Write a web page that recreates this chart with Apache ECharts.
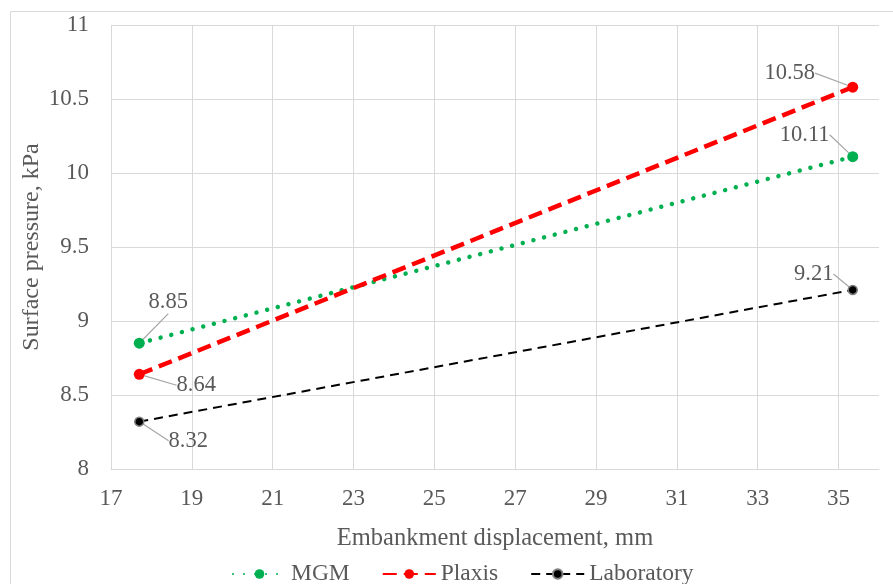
<!DOCTYPE html>
<html>
<head>
<meta charset="utf-8">
<script src="https://cdn.jsdelivr.net/npm/echarts@6/dist/echarts.min.js"></script>
<style>html,body{margin:0;padding:0;background:#fff;}#c{width:893px;height:584px;}</style>
</head>
<body>
<div id="c"></div>
<script>
const displacement = [17.7, 35.35];
const mgm = [8.85, 10.11];
const plaxis = [8.64, 10.58];
const laboratory = [8.32, 9.21];
const xTicks = [17, 19, 21, 23, 25, 27, 29, 31, 33, 35];
const yTicks = [8, 8.5, 9, 9.5, 10, 10.5, 11];

const FONT = 'Liberation Serif';
const GREY = '#595959';

function pairs(ys) { return displacement.map((x, i) => [x, ys[i]]); }

const labelOffsets = {
  MGM: [[29, -41], [-48, -22]],
  Plaxis: [[57, 11], [-63, -14]],
  Laboratory: [[49, 19], [-39, -16]]
};

function mkSeries(name, ys, color, lineStyle, symbolSize, itemStyle) {
  return {
    name: name,
    type: 'line',
    data: pairs(ys),
    symbol: 'circle',
    symbolSize: symbolSize,
    itemStyle: Object.assign({ color: color }, itemStyle || {}),
    lineStyle: Object.assign({ color: color }, lineStyle),
    label: {
      show: true,
      position: 'inside',
      color: GREY,
      fontFamily: FONT,
      fontSize: 22.5,
      formatter: p => String(p.value[1])
    },
    labelLine: { show: true, lineStyle: { color: '#a6a6a6', width: 1.2 } },
    labelLayout: function (p) {
      const o = labelOffsets[name][p.dataIndex];
      return { dx: o[0], dy: o[1] };
    },
    emphasis: { disabled: true },
    animation: false
  };
}

const chart = echarts.init(document.getElementById('c'));
chart.setOption({
  animation: false,
  backgroundColor: '#fff',
  textStyle: { fontFamily: FONT },
  graphic: [{
    type: 'rect',
    shape: { x: 10.5, y: 11.5, width: 900, height: 600 },
    style: { fill: 'none', stroke: '#d9d9d9', lineWidth: 1 },
    silent: true
  }],
  grid: { left: 111, top: 25, right: 14, bottom: 115, containLabel: false },
  xAxis: {
    type: 'value',
    min: xTicks[0],
    max: 36,
    interval: 2,
    name: 'Embankment displacement, mm',
    nameLocation: 'middle',
    nameGap: 57,
    nameMoveOverlap: false,
    nameTextStyle: { color: GREY, fontFamily: FONT, fontSize: 24.5 },
    axisLine: { show: true, lineStyle: { color: '#d9d9d9', width: 1 } },
    axisTick: { show: false },
    axisLabel: { color: GREY, fontFamily: FONT, fontSize: 23, margin: 18, showMaxLabel: false,
      formatter: v => xTicks.indexOf(v) >= 0 ? String(v) : '' },
    splitLine: { show: true, showMaxLine: false, lineStyle: { color: '#d9d9d9', width: 1 } }
  },
  yAxis: {
    type: 'value',
    min: yTicks[0],
    max: yTicks[yTicks.length - 1],
    interval: 0.5,
    name: 'Surface pressure, kPa',
    nameLocation: 'middle',
    nameGap: 67,
    nameMoveOverlap: false,
    nameTextStyle: { color: GREY, fontFamily: FONT, fontSize: 24 },
    axisLine: { show: false },
    axisTick: { show: false },
    axisLabel: { color: GREY, fontFamily: FONT, fontSize: 23, margin: 22 },
    splitLine: { show: true, lineStyle: { color: '#d9d9d9', width: 1 } }
  },
  legend: {
    left: 227,
    top: 557,
    itemWidth: 53,
    itemHeight: 12,
    itemGap: 32,
    textStyle: { color: GREY, fontFamily: FONT, fontSize: 23.5 },
    data: ['MGM', 'Plaxis', 'Laboratory']
  },
  series: [
    mkSeries('MGM', mgm, '#00b050', { width: 4.5, type: [0.01, 11], cap: 'round' }, 11),
    mkSeries('Plaxis', plaxis, '#ff0000', { width: 4.5, type: [14, 7] }, 11),
    mkSeries('Laboratory', laboratory, '#000000', { width: 2, type: [9, 6] }, 9,
      { borderColor: '#808080', borderWidth: 1.5 })
  ]
});
</script>
</body>
</html>
